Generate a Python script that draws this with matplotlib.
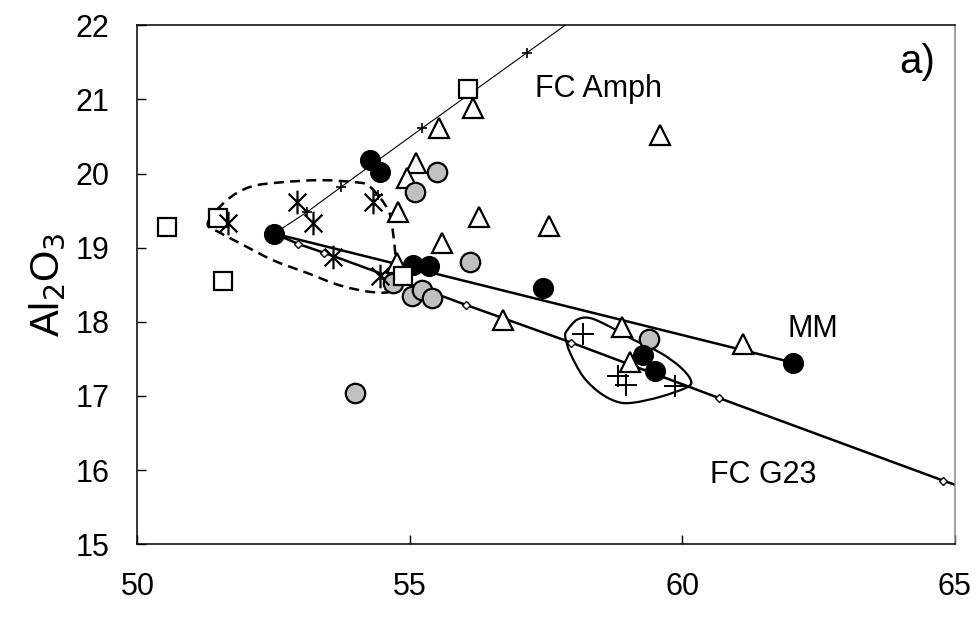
import numpy as np
import matplotlib
matplotlib.use("Agg")
import matplotlib.pyplot as plt
from matplotlib.path import Path
from matplotlib.patches import PathPatch

plt.rcParams['font.family'] = ['Liberation Sans', 'DejaVu Sans']

# samples (SiO2, Al2O3)
black_x = [52.51, 54.27, 54.45, 55.06, 55.35, 57.45, 59.28, 59.49, 62.03]
black_y = [19.19, 20.18, 20.02, 18.77, 18.75, 18.46, 17.55, 17.34, 17.45]
grey_x = [55.50, 55.10, 56.11, 53.99, 59.39, 54.69, 55.04, 55.22, 55.41]
grey_y = [20.02, 19.75, 18.81, 17.04, 17.77, 18.52, 18.35, 18.43, 18.32]
tri_x = [56.16, 55.54, 55.11, 54.95, 54.78, 59.58, 56.27, 57.56, 55.59, 54.77, 56.70, 58.90, 59.03, 61.12]
tri_y = [20.88, 20.61, 20.14, 19.94, 19.48, 20.52, 19.41, 19.29, 19.06, 18.79, 18.03, 17.93, 17.46, 17.70]
sq_x = [56.07, 50.54, 51.48, 51.57, 54.88]
sq_y = [21.14, 19.28, 19.40, 18.55, 18.62]
ast_x = [51.66, 52.93, 53.22, 53.59, 54.32, 54.45]
ast_y = [19.33, 19.62, 19.33, 18.87, 19.62, 18.62]
cross_x = [58.18, 58.81, 58.97, 59.87]
cross_y = [17.84, 17.27, 17.15, 17.14]

# model curves
amph_x = [52.51, 53.11, 53.74, 55.22, 57.15, 58.0]
amph_y = [19.19, 19.48, 19.82, 20.61, 21.63, 22.08]
amph_extra_x = [54.42]
amph_extra_y = [19.71]
g23_x = [52.51, 52.95, 53.43, 54.55, 56.02, 57.96, 60.68, 64.78, 65.05]
g23_y = [19.19, 19.05, 18.93, 18.63, 18.23, 17.72, 16.97, 15.86, 15.79]
mm_x = [52.51, 62.03]
mm_y = [19.19, 17.45]

# field outlines
dash_x = [51.29, 51.64, 52.07, 52.62, 53.35, 54.03, 54.27, 54.60, 54.69, 54.73, 54.77, 54.69,
          54.32, 53.72, 53.11, 52.49, 51.88, 51.52]
dash_y = [19.33, 19.64, 19.82, 19.88, 19.91, 19.88, 19.82, 19.51, 19.20, 18.93, 18.70, 18.43,
          18.40, 18.49, 18.66, 18.83, 19.06, 19.20]
loop_x = [57.89, 58.07, 58.31, 58.68, 59.10, 59.60, 59.96, 60.15, 60.09, 59.60, 59.10, 58.81,
          58.49, 58.18, 57.94, 57.85]
loop_y = [17.89, 18.03, 18.05, 17.93, 17.76, 17.58, 17.39, 17.22, 17.12, 16.99, 16.91, 16.92,
          17.04, 17.26, 17.58, 17.80]


def closed_curve(xs, ys):
    # closed Catmull-Rom outline expressed as cubic Bezier segments
    P = np.column_stack([xs, ys])
    n = len(P)
    verts = [P[0]]
    codes = [Path.MOVETO]
    for i in range(n):
        p0, p1, p2, p3 = P[i - 1], P[i], P[(i + 1) % n], P[(i + 2) % n]
        verts += [p1 + (p2 - p0) / 6, p2 - (p3 - p1) / 6, p2]
        codes += [Path.CURVE4] * 3
    return Path(verts, codes)


ast_marker = Path([(0, -1), (0, 1), (-0.75, -0.75), (0.75, 0.75), (-0.75, 0.75), (0.75, -0.75)],
                  [Path.MOVETO, Path.LINETO] * 3)

fig = plt.figure(figsize=(9.79, 6.19), dpi=100)
ax = fig.add_axes([0.1404, 0.1207, 0.835, 0.8386])

ax.add_patch(PathPatch(closed_curve(dash_x, dash_y), fill=False, lw=1.8, ls=(0, (4, 2.5)), color='black', zorder=2))
ax.add_patch(PathPatch(closed_curve(loop_x, loop_y), fill=False, lw=1.6, color='black', zorder=2))

ax.plot(amph_x, amph_y, color='black', lw=0.8, zorder=2)
ax.plot(amph_x[1:-1], amph_y[1:-1], ls='none', marker='+', ms=7, mew=1.2, color='black', zorder=2)
ax.plot(amph_extra_x, amph_extra_y, ls='none', marker='+', ms=7, mew=1.2, color='black', zorder=6)
ax.plot(g23_x, g23_y, color='black', lw=1.8, zorder=2)
ax.plot(g23_x[1:-1], g23_y[1:-1], ls='none', marker='D', ms=4, mfc='white', mec='black', mew=1, zorder=2)
ax.plot(mm_x, mm_y, color='black', lw=1.8, zorder=2)

ax.plot(tri_x, tri_y, ls='none', marker='^', ms=15, mfc='white', mec='black', mew=1.6, zorder=3)
ax.plot(grey_x, grey_y, ls='none', marker='o', ms=14, mfc='#c0c0c0', mec='black', mew=1.6, zorder=4)
ax.plot(black_x, black_y, ls='none', marker='o', ms=14, mfc='black', mec='black', mew=1.2, zorder=5)
ax.plot(sq_x, sq_y, ls='none', marker='s', ms=12.5, mfc='white', mec='black', mew=1.6, zorder=6)
ax.plot(ast_x, ast_y, ls='none', marker=ast_marker, ms=17, mec='black', mew=1.6, zorder=7)
ax.plot(cross_x, cross_y, ls='none', marker='+', ms=16, mec='black', mew=1.4, zorder=7)

ax.text(57.30, 21.03, 'FC Amph', fontsize=22, va='baseline', ha='left')
ax.text(61.93, 17.80, 'MM', fontsize=22, va='baseline', ha='left')
ax.text(60.50, 15.83, 'FC G23', fontsize=22, va='baseline', ha='left')
ax.text(63.97, 21.36, 'a)', fontsize=29, va='baseline', ha='left')

ax.set_xlim(50, 65)
ax.set_ylim(15, 22)
ax.set_xticks([50, 55, 60, 65])
ax.set_yticks(range(15, 23))
ax.tick_params(direction='in', length=6.5, width=1, labelsize=22, pad=20)
ax.tick_params(axis='y', pad=20)
ax.set_ylabel('Al$_2$O$_3$', fontsize=29, labelpad=6)
for s in ax.spines.values():
    s.set_linewidth(1.1)
ax.spines['right'].set_color('#888888')

fig.savefig('out.png', dpi=100)
